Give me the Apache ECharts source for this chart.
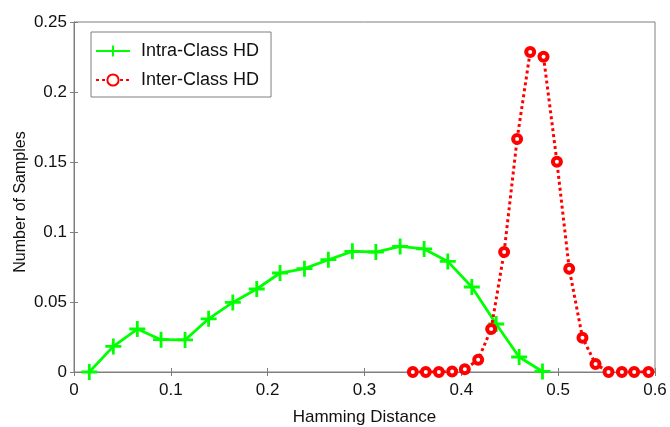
<!DOCTYPE html>
<html>
<head>
<meta charset="utf-8">
<script src="https://cdn.jsdelivr.net/npm/echarts@6/dist/echarts.min.js"></script>
<style>
  html, body { margin: 0; padding: 0; background: #fff; }
  #chart { width: 670px; height: 427px; }
</style>
</head>
<body>
<div id="chart"></div>
<script>
// Hamming distance distributions
const intraX = [0.0158, 0.0406, 0.0654, 0.0899, 0.1147, 0.139, 0.164, 0.1887, 0.2128, 0.238,
                0.2627, 0.2875, 0.3117, 0.3368, 0.3616, 0.386, 0.4108, 0.436, 0.4597, 0.4838];
const intraY = [0, 0.0183, 0.0307, 0.0231, 0.0229, 0.038, 0.0497, 0.0593, 0.0707, 0.0738,
                0.0802, 0.0862, 0.0857, 0.0897, 0.0879, 0.079, 0.0607, 0.0343, 0.0107, 0.0004];

const interX = [0.3499, 0.3633, 0.3768, 0.3905, 0.4036, 0.4174, 0.4308, 0.4442, 0.4576, 0.4711,
                0.4849, 0.4987, 0.5114, 0.5251, 0.5386, 0.552, 0.5658, 0.5785, 0.5933];
const interY = [0, 0, 0, 0.0004, 0.002, 0.0088, 0.0307, 0.0857, 0.1664, 0.2286,
                0.2252, 0.1502, 0.0738, 0.0245, 0.0057, 0, 0, 0, 0];

const xTicks = [0, 0.1, 0.2, 0.3, 0.4, 0.5, 0.6];
const yTicks = [0, 0.05, 0.1, 0.15, 0.2, 0.25];

const seriesNames = ['Intra-Class HD', 'Inter-Class HD'];

const pair = (xs, ys) => xs.map((x, i) => [x, ys[i]]);

const FONT = 'Liberation Sans, Arial, sans-serif';
const AXIS_GREY = '#7f7f7f';
const plus = 'path://M-1.4,-8 L1.4,-8 L1.4,-1.4 L8,-1.4 L8,1.4 L1.4,1.4 L1.4,8 L-1.4,8 L-1.4,1.4 L-8,1.4 L-8,-1.4 L-1.4,-1.4 Z';

const xStep = xTicks[1] - xTicks[0];
const yStep = yTicks[1] - yTicks[0];

const tickStyle = { show: true, inside: true, length: 4, lineStyle: { color: AXIS_GREY, width: 1 } };

const chart = echarts.init(document.getElementById('chart'), null, { renderer: 'canvas' });
chart.setOption({
  backgroundColor: '#fff',
  animation: false,
  grid: {
    left: 74, right: 15, top: 22, bottom: 55,
    containLabel: false, outerBoundsMode: 'none',
    show: true, borderColor: AXIS_GREY, borderWidth: 1
  },
  legend: {
    orient: 'vertical',
    left: 91,
    top: 32,
    width: 180,
    padding: [10, 12, 8, 4],
    itemGap: 11,
    itemWidth: 34,
    itemHeight: 14,
    borderColor: AXIS_GREY,
    borderWidth: 1,
    backgroundColor: '#fff',
    data: seriesNames,
    textStyle: { fontFamily: FONT, fontSize: 18, color: '#111', padding: [0, 0, 0, 6] }
  },
  xAxis: [{
    type: 'value', min: xTicks[0], max: xTicks[xTicks.length - 1], interval: xStep,
    name: 'Hamming Distance', nameLocation: 'middle', nameGap: 37,
    nameTextStyle: { fontFamily: FONT, fontSize: 17, color: '#111' },
    axisLine: { show: true, lineStyle: { color: AXIS_GREY } },
    axisTick: tickStyle,
    axisLabel: { fontFamily: FONT, fontSize: 17, color: '#111', margin: 10 },
    splitLine: { show: false }
  }, {
    type: 'value', position: 'top', min: xTicks[0], max: xTicks[xTicks.length - 1], interval: xStep,
    axisLine: { show: true, lineStyle: { color: AXIS_GREY } },
    axisTick: tickStyle, axisLabel: { show: false }, splitLine: { show: false }
  }],
  yAxis: [{
    type: 'value', min: yTicks[0], max: yTicks[yTicks.length - 1], interval: yStep,
    name: 'Number of Samples', nameLocation: 'middle', nameGap: 45, nameMoveOverlap: false,
    nameTextStyle: { fontFamily: FONT, fontSize: 16, color: '#111', padding: [0, 0, 0, -10] },
    axisLine: { show: true, lineStyle: { color: AXIS_GREY } },
    axisTick: tickStyle,
    axisLabel: { fontFamily: FONT, fontSize: 17, color: '#111', margin: 7 },
    splitLine: { show: false }
  }, {
    type: 'value', position: 'right', min: yTicks[0], max: yTicks[yTicks.length - 1], interval: yStep,
    axisLine: { show: true, lineStyle: { color: AXIS_GREY } },
    axisTick: tickStyle, axisLabel: { show: false }, splitLine: { show: false }
  }],
  series: [{
    name: seriesNames[0],
    type: 'line',
    data: pair(intraX, intraY),
    symbol: plus,
    symbolSize: 16,
    lineStyle: { color: '#00ff00', width: 2.8 },
    itemStyle: { color: '#00ff00' },
    z: 3
  }, {
    name: seriesNames[1],
    type: 'line',
    data: pair(interX, interY),
    symbol: 'circle',
    symbolSize: 8,
    showAllSymbol: true,
    lineStyle: { color: '#ff0000', width: 3, type: [3, 3] },
    itemStyle: { color: '#ffffff', borderColor: '#ff0000', borderWidth: 4 },
    z: 4
  }]
});
</script>
</body>
</html>
